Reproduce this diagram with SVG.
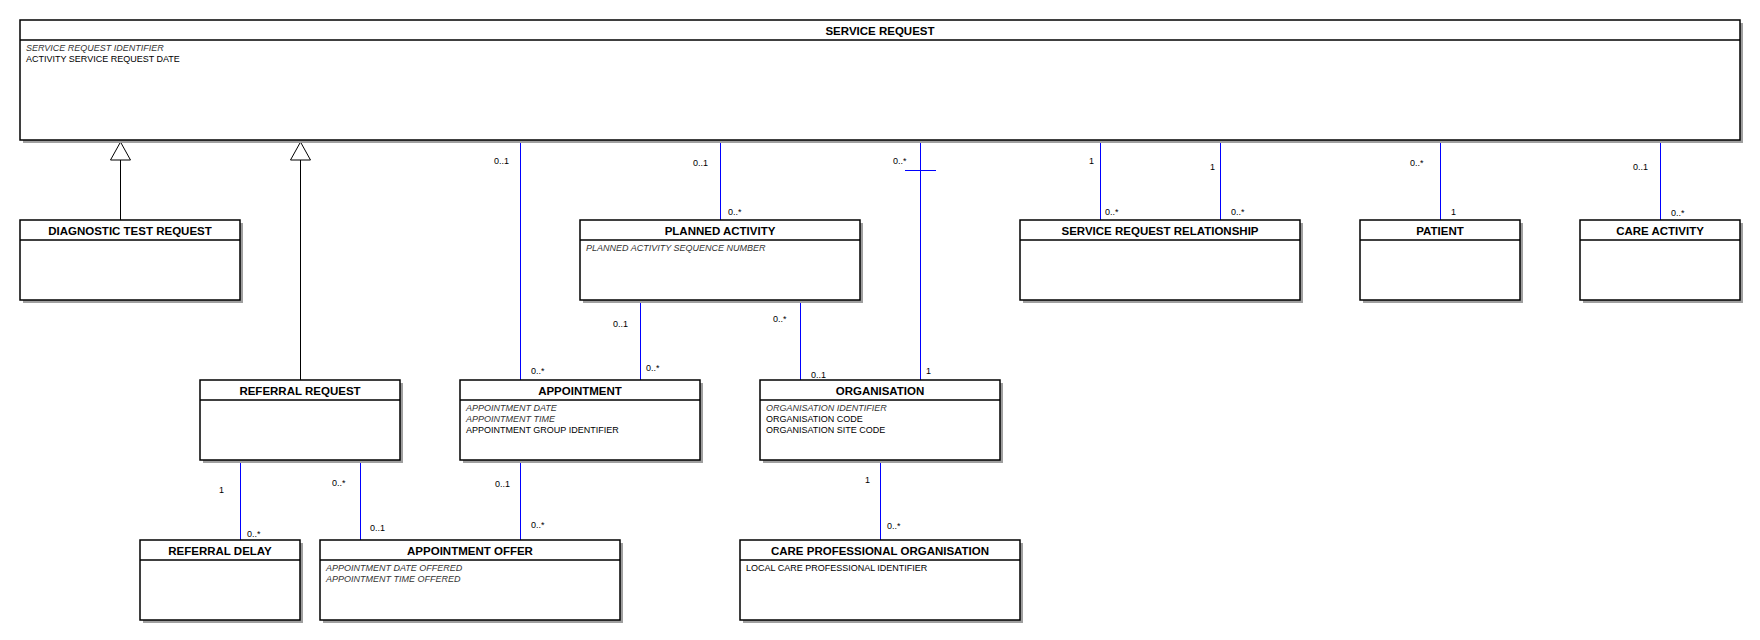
<svg xmlns="http://www.w3.org/2000/svg" width="1760" height="640" viewBox="0 0 1760 640">
<style>
.bg{fill:#ffffff}
.sh{fill:#a0a0a0}
.box{fill:#ffffff;stroke:#000000;stroke-width:1.5}
.hd{stroke:#000000;stroke-width:1.5}
.title{font-family:"Liberation Sans",Arial,sans-serif;font-weight:bold;font-size:11.5px;fill:#000000;text-anchor:middle}
.attr{font-family:"Liberation Sans",Arial,sans-serif;font-size:9px;fill:#000000}
.it{font-style:italic;fill:#333333}
.assoc{stroke:#0000ff;stroke-width:1;fill:none;shape-rendering:crispEdges}
.gen{stroke:#000000;stroke-width:1;fill:none;shape-rendering:crispEdges}
.tri{fill:#ffffff;stroke:#000000;stroke-width:1}
.mult{font-family:"Liberation Sans",Arial,sans-serif;font-size:9px;fill:#000000}
</style>
<rect class="bg" x="0" y="0" width="1760" height="640"/>

<g id="connectors">
  <!-- generalizations -->
  <line class="gen" x1="120.5" y1="160" x2="120.5" y2="220"/>
  <polygon class="tri" points="120.5,142 110.5,160 130.5,160"/>
  <line class="gen" x1="300.5" y1="160" x2="300.5" y2="380"/>
  <polygon class="tri" points="300.5,142 290.5,160 310.5,160"/>
  <!-- associations from SERVICE REQUEST -->
  <line class="assoc" x1="520.5" y1="143" x2="520.5" y2="380"/>
  <text class="mult" x="494" y="164">0..1</text>
  <text class="mult" x="531" y="374">0..*</text>
  <line class="assoc" x1="720.5" y1="143" x2="720.5" y2="220"/>
  <text class="mult" x="693" y="166">0..1</text>
  <text class="mult" x="728" y="215">0..*</text>
  <line class="assoc" x1="920.5" y1="143" x2="920.5" y2="380"/>
  <line class="assoc" x1="905" y1="170.5" x2="936" y2="170.5"/>
  <text class="mult" x="893" y="164">0..*</text>
  <text class="mult" x="926" y="374">1</text>
  <line class="assoc" x1="1100.5" y1="143" x2="1100.5" y2="220"/>
  <text class="mult" x="1089" y="164">1</text>
  <text class="mult" x="1105" y="215">0..*</text>
  <line class="assoc" x1="1220.5" y1="143" x2="1220.5" y2="220"/>
  <text class="mult" x="1210" y="170">1</text>
  <text class="mult" x="1231" y="215">0..*</text>
  <line class="assoc" x1="1440.5" y1="143" x2="1440.5" y2="220"/>
  <text class="mult" x="1410" y="166">0..*</text>
  <text class="mult" x="1451" y="215">1</text>
  <line class="assoc" x1="1660.5" y1="143" x2="1660.5" y2="220"/>
  <text class="mult" x="1633" y="170">0..1</text>
  <text class="mult" x="1671" y="216">0..*</text>
  <!-- planned activity -->
  <line class="assoc" x1="640.5" y1="303" x2="640.5" y2="380"/>
  <text class="mult" x="613" y="327">0..1</text>
  <text class="mult" x="646" y="371">0..*</text>
  <line class="assoc" x1="800.5" y1="303" x2="800.5" y2="380"/>
  <text class="mult" x="773" y="322">0..*</text>
  <text class="mult" x="811" y="378">0..1</text>
  <!-- referral request -->
  <line class="assoc" x1="240.5" y1="463" x2="240.5" y2="540"/>
  <text class="mult" x="219" y="493">1</text>
  <text class="mult" x="247" y="537">0..*</text>
  <line class="assoc" x1="360.5" y1="463" x2="360.5" y2="540"/>
  <text class="mult" x="332" y="486">0..*</text>
  <text class="mult" x="370" y="531">0..1</text>
  <!-- appointment -->
  <line class="assoc" x1="520.5" y1="463" x2="520.5" y2="540"/>
  <text class="mult" x="495" y="487">0..1</text>
  <text class="mult" x="531" y="528">0..*</text>
  <!-- organisation -->
  <line class="assoc" x1="880.5" y1="463" x2="880.5" y2="540"/>
  <text class="mult" x="865" y="483">1</text>
  <text class="mult" x="887" y="529">0..*</text>
</g>

<g id="service-request">
  <rect class="sh" x="23" y="23" width="1720" height="120"/>
  <rect class="box" x="20" y="20" width="1720" height="120"/>
  <line class="hd" x1="20" y1="40" x2="1740" y2="40"/>
  <text class="title" x="880" y="35">SERVICE REQUEST</text>
  <text class="attr it" x="26" y="50.5">SERVICE REQUEST IDENTIFIER</text>
  <text class="attr" x="26" y="61.5">ACTIVITY SERVICE REQUEST DATE</text>
</g>

<g id="diagnostic-test-request">
  <rect class="sh" x="23" y="223" width="220" height="80"/>
  <rect class="box" x="20" y="220" width="220" height="80"/>
  <line class="hd" x1="20" y1="240" x2="240" y2="240"/>
  <text class="title" x="130" y="235">DIAGNOSTIC TEST REQUEST</text>
</g>

<g id="planned-activity">
  <rect class="sh" x="583" y="223" width="280" height="80"/>
  <rect class="box" x="580" y="220" width="280" height="80"/>
  <line class="hd" x1="580" y1="240" x2="860" y2="240"/>
  <text class="title" x="720" y="235">PLANNED ACTIVITY</text>
  <text class="attr it" x="586" y="250.5">PLANNED ACTIVITY SEQUENCE NUMBER</text>
</g>

<g id="service-request-relationship">
  <rect class="sh" x="1023" y="223" width="280" height="80"/>
  <rect class="box" x="1020" y="220" width="280" height="80"/>
  <line class="hd" x1="1020" y1="240" x2="1300" y2="240"/>
  <text class="title" x="1160" y="235">SERVICE REQUEST RELATIONSHIP</text>
</g>

<g id="patient">
  <rect class="sh" x="1363" y="223" width="160" height="80"/>
  <rect class="box" x="1360" y="220" width="160" height="80"/>
  <line class="hd" x1="1360" y1="240" x2="1520" y2="240"/>
  <text class="title" x="1440" y="235">PATIENT</text>
</g>

<g id="care-activity">
  <rect class="sh" x="1583" y="223" width="160" height="80"/>
  <rect class="box" x="1580" y="220" width="160" height="80"/>
  <line class="hd" x1="1580" y1="240" x2="1740" y2="240"/>
  <text class="title" x="1660" y="235">CARE ACTIVITY</text>
</g>

<g id="referral-request">
  <rect class="sh" x="203" y="383" width="200" height="80"/>
  <rect class="box" x="200" y="380" width="200" height="80"/>
  <line class="hd" x1="200" y1="400" x2="400" y2="400"/>
  <text class="title" x="300" y="395">REFERRAL REQUEST</text>
</g>

<g id="appointment">
  <rect class="sh" x="463" y="383" width="240" height="80"/>
  <rect class="box" x="460" y="380" width="240" height="80"/>
  <line class="hd" x1="460" y1="400" x2="700" y2="400"/>
  <text class="title" x="580" y="395">APPOINTMENT</text>
  <text class="attr it" x="466" y="410.5">APPOINTMENT DATE</text>
  <text class="attr it" x="466" y="421.5">APPOINTMENT TIME</text>
  <text class="attr" x="466" y="432.5">APPOINTMENT GROUP IDENTIFIER</text>
</g>

<g id="organisation">
  <rect class="sh" x="763" y="383" width="240" height="80"/>
  <rect class="box" x="760" y="380" width="240" height="80"/>
  <line class="hd" x1="760" y1="400" x2="1000" y2="400"/>
  <text class="title" x="880" y="395">ORGANISATION</text>
  <text class="attr it" x="766" y="410.5">ORGANISATION IDENTIFIER</text>
  <text class="attr" x="766" y="421.5">ORGANISATION CODE</text>
  <text class="attr" x="766" y="432.5">ORGANISATION SITE CODE</text>
</g>

<g id="referral-delay">
  <rect class="sh" x="143" y="543" width="160" height="80"/>
  <rect class="box" x="140" y="540" width="160" height="80"/>
  <line class="hd" x1="140" y1="560" x2="300" y2="560"/>
  <text class="title" x="220" y="555">REFERRAL DELAY</text>
</g>

<g id="appointment-offer">
  <rect class="sh" x="323" y="543" width="300" height="80"/>
  <rect class="box" x="320" y="540" width="300" height="80"/>
  <line class="hd" x1="320" y1="560" x2="620" y2="560"/>
  <text class="title" x="470" y="555">APPOINTMENT OFFER</text>
  <text class="attr it" x="326" y="570.5">APPOINTMENT DATE OFFERED</text>
  <text class="attr it" x="326" y="581.5">APPOINTMENT TIME OFFERED</text>
</g>

<g id="care-professional-organisation">
  <rect class="sh" x="743" y="543" width="280" height="80"/>
  <rect class="box" x="740" y="540" width="280" height="80"/>
  <line class="hd" x1="740" y1="560" x2="1020" y2="560"/>
  <text class="title" x="880" y="555">CARE PROFESSIONAL ORGANISATION</text>
  <text class="attr" x="746" y="570.5">LOCAL CARE PROFESSIONAL IDENTIFIER</text>
</g>
</svg>
